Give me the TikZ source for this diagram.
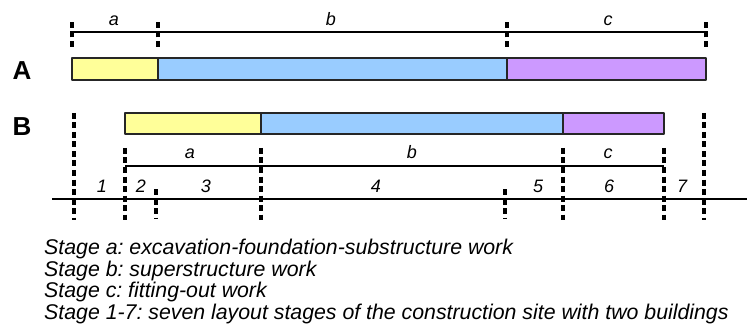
\documentclass[tikz,border=0pt]{standalone}
\usepackage{fontspec}
\setmainfont{Liberation Sans}
\definecolor{stageA}{HTML}{FFFF99}
\definecolor{stageB}{HTML}{99CCFF}
\definecolor{stageC}{HTML}{CC99FF}
\frenchspacing
\begin{document}
\begin{tikzpicture}[x=1pt,y=-1pt,line cap=butt,line join=round,
  bar/.style={draw=black!85,line width=1.1pt},
  dimline/.style={line width=1.2pt},
  cut/.style={line width=3.1pt,dash pattern=on 6pt off 3.5pt},
  lbl/.style={font=\fontsize{18}{18}\selectfont\itshape,inner sep=0pt,anchor=base},
  bldg/.style={font=\fontsize{26}{26}\selectfont\bfseries,inner sep=0pt},
  note/.style={font=\fontsize{21.3}{20}\selectfont\itshape,inner sep=0pt,anchor=base west}]
  \useasboundingbox (0,0) rectangle (747,334);
  % building A
  \coordinate (a0) at (72,32);
  \coordinate (a1) at (158,32);
  \coordinate (a2) at (507,32);
  \coordinate (a3) at (706,32);
  \draw[dimline] (a0) -- (a3);
  \foreach \p in {a0,a1,a2,a3}
    \draw[cut] ([yshift=-15pt]\p) -- ([yshift=12pt]\p);
  \node[lbl] (la) at (114,26) {a};
  \node[lbl] (lb) at (331,26) {b};
  \node[lbl] (lc) at (608,26) {c};
  \filldraw[bar,fill=stageA] (72,58) rectangle (158,80);
  \filldraw[bar,fill=stageB] (158,58) rectangle (507,80);
  \filldraw[bar,fill=stageC] (507,58) rectangle (706,80);
  \node[bldg] (bA) at (22,71) {A};
  % building B
  \node[bldg] (bB) at (22,127) {B};
  \filldraw[bar,fill=stageA] (125,113) rectangle (261,134);
  \filldraw[bar,fill=stageB] (261,113) rectangle (563,134);
  \filldraw[bar,fill=stageC] (563,113) rectangle (664,134);
  \coordinate (b0) at (125,166);
  \coordinate (b3) at (664,166);
  \draw[dimline] (b0) -- (b3);
  \node[lbl] (lba) at (190,159) {a};
  \node[lbl] (lbb) at (412,159) {b};
  \node[lbl] (lbc) at (608,159) {c};
  % site layout stages
  \coordinate (s0) at (52,199);
  \coordinate (s1) at (747,199);
  \draw[dimline] (s0) -- (s1);
  \foreach \x in {74,704}
    \draw[cut] (\x,113) -- (\x,220);
  \foreach \x in {125,261,563,664}
    \draw[cut] (\x,148) -- (\x,220);
  \foreach \x in {156,505}
    \draw[cut] (\x,189) -- (\x,218);
  \foreach \n/\x in {1/102,2/141,3/206,4/376,5/538,6/609,7/682}
    \node[lbl] (n\n) at (\x,193) {\n};
  % legend
  \node[note] (t1) at (44,254) {Stage a: excavation-foundation-substructure work};
  \node[note] (t2) at (44,276) {Stage b: superstructure work};
  \node[note] (t3) at (44,297.5) {Stage c: fitting-out work};
  \node[note] (t4) at (44,319) {Stage 1-7: seven layout stages of the construction site with two buildings};
\end{tikzpicture}
\end{document}
